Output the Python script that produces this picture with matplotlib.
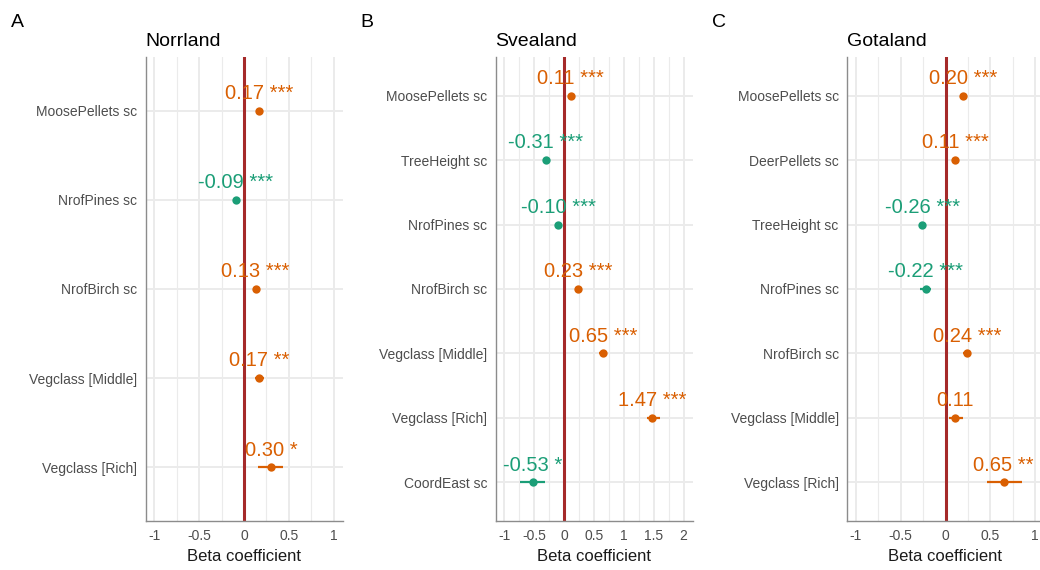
import matplotlib.pyplot as plt
import numpy as np

plt.rcParams['font.family'] = ['Liberation Sans', 'DejaVu Sans']

# model estimates per region (terms listed top to bottom)
norr_terms = ['MoosePellets sc', 'NrofPines sc', 'NrofBirch sc', 'Vegclass [Middle]', 'Vegclass [Rich]']
norr_est = [0.17, -0.09, 0.13, 0.17, 0.30]
norr_lo = [0.15, -0.11, 0.11, 0.12, 0.16]
norr_hi = [0.19, -0.07, 0.15, 0.22, 0.44]
norr_stars = ['***', '***', '***', '**', '*']

svea_terms = ['MoosePellets sc', 'TreeHeight sc', 'NrofPines sc', 'NrofBirch sc',
              'Vegclass [Middle]', 'Vegclass [Rich]', 'CoordEast sc']
svea_est = [0.11, -0.31, -0.10, 0.23, 0.65, 1.47, -0.53]
svea_lo = [0.09, -0.34, -0.13, 0.19, 0.59, 1.38, -0.74]
svea_hi = [0.13, -0.28, -0.07, 0.27, 0.71, 1.60, -0.32]
svea_stars = ['***', '***', '***', '***', '***', '***', '*']

gota_terms = ['MoosePellets sc', 'DeerPellets sc', 'TreeHeight sc', 'NrofPines sc',
              'NrofBirch sc', 'Vegclass [Middle]', 'Vegclass [Rich]']
gota_est = [0.20, 0.11, -0.26, -0.22, 0.24, 0.11, 0.65]
gota_lo = [0.17, 0.08, -0.30, -0.28, 0.20, 0.04, 0.46]
gota_hi = [0.23, 0.14, -0.22, -0.16, 0.28, 0.19, 0.85]
gota_stars = ['***', '***', '***', '***', '***', '', '**']

POS = '#D95F02'
NEG = '#1B9E77'
VLINE = '#A52A2A'
W, H = 1040, 570

fig = plt.figure(figsize=(W / 100, H / 100), dpi=100)


def forest(left_px, title, letter, terms, est, lo, hi, stars, xlim, xticks, minor):
    n = len(terms)
    ax = fig.add_axes([left_px / W, 1 - 521 / H, 197 / W, 464 / H])
    y = np.arange(n)
    ax.set_xlim(*xlim)
    ax.set_ylim(n - 1 + 0.6, -0.6)
    ax.set_xticks(xticks)
    ax.set_xticklabels([('%g' % t) for t in xticks])
    ax.set_xticks(minor, minor=True)
    ax.set_yticks(y)
    ax.set_yticklabels(terms)
    ax.grid(True, which='major', color='#EBEBEB', lw=1.4, zorder=0)
    ax.grid(True, which='minor', axis='x', color='#EBEBEB', lw=0.8, zorder=0)
    ax.set_axisbelow(True)
    ax.tick_params(which='both', length=0)
    ax.tick_params(axis='y', pad=6, labelsize=10, labelcolor='#4D4D4D')
    ax.tick_params(axis='x', pad=6, labelsize=10, labelcolor='#4D4D4D')
    for s in ['top', 'right']:
        ax.spines[s].set_visible(False)
    for s in ['left', 'bottom']:
        ax.spines[s].set_color('#8C8C8C')
        ax.spines[s].set_linewidth(1.0)
    ax.axvline(0, color=VLINE, lw=2.2, zorder=2)
    for i in range(n):
        c = POS if est[i] > 0 else NEG
        ax.plot([lo[i], hi[i]], [y[i], y[i]], color=c, lw=1.6, solid_capstyle='butt', zorder=3)
        ax.plot(est[i], y[i], 'o', color=c, ms=6, mec='none', zorder=4)
        lab = '%.2f' % est[i] + (' ' + stars[i] if stars[i] else '')
        ax.annotate(lab, (est[i], y[i]), xytext=(0, 8.5), textcoords='offset points',
                    ha='center', va='baseline', color=c, fontsize=14.5, zorder=5)
    ax.set_xlabel('Beta coefficient', fontsize=12, color='#1A1A1A', labelpad=4)
    ax.set_title(title, loc='left', fontsize=14, pad=8)
    fig.text((left_px - 135) / W, 1 - 27 / H, letter, fontsize=14, va='baseline')
    return ax


forest(145.5, 'Norrland', 'A', norr_terms, norr_est, norr_lo, norr_hi, norr_stars,
       (-1.1, 1.1), [-1, -0.5, 0, 0.5, 1], [-0.75, -0.25, 0.25, 0.75])
forest(495.5, 'Svealand', 'B', svea_terms, svea_est, svea_lo, svea_hi, svea_stars,
       (-1.15, 2.15), [-1, -0.5, 0, 0.5, 1, 1.5, 2],
       [-0.75, -0.25, 0.25, 0.75, 1.25, 1.75])
forest(847, 'Gotaland', 'C', gota_terms, gota_est, gota_lo, gota_hi, gota_stars,
       (-1.1, 1.1), [-1, -0.5, 0, 0.5, 1], [-0.75, -0.25, 0.25, 0.75])

fig.savefig('out.png', dpi=100)
